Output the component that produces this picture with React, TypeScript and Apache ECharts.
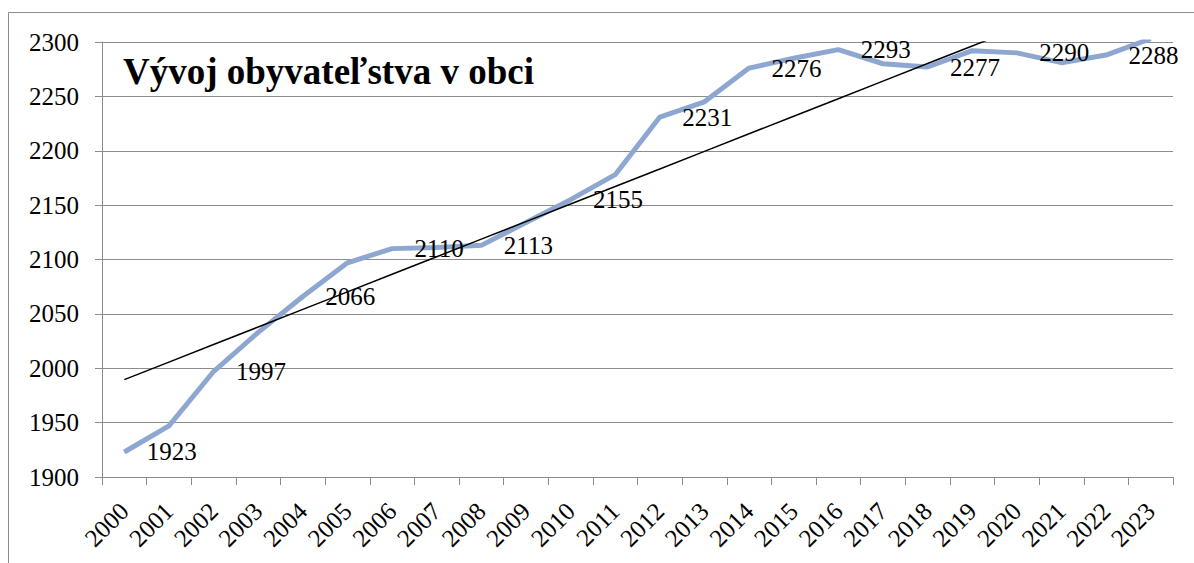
import React, { useEffect, useRef } from "react";
import * as echarts from "echarts";

const years = [
  "2000", "2001", "2002", "2003", "2004", "2005", "2006", "2007", "2008", "2009", "2010", "2011",
  "2012", "2013", "2014", "2015", "2016", "2017", "2018", "2019", "2020", "2021", "2022", "2023",
];
const population = [
  1923, 1947, 1997, 2033, 2066, 2097, 2110, 2111, 2113, 2134, 2155, 2178,
  2231, 2245, 2276, 2285, 2293, 2280, 2277, 2292, 2290, 2281, 2288, 2303,
];
const labeledYears = ["2000", "2002", "2004", "2006", "2008", "2010", "2012", "2014", "2016", "2018", "2020", "2022"];
const yMin = 1900;
const yMax = 2300;
const yStep = 50;
const titleText = "Vývoj obyvateľstva v obci";

const SERIF = "Liberation Serif";

function linearTrend(values: number[]): number[] {
  const n = values.length;
  const mx = (n - 1) / 2;
  const my = values.reduce((a, b) => a + b, 0) / n;
  let num = 0;
  let den = 0;
  values.forEach((v, i) => {
    num += (i - mx) * (v - my);
    den += (i - mx) * (i - mx);
  });
  const slope = num / den;
  const intercept = my - slope * mx;
  return values.map((_, i) => intercept + slope * i);
}

export default function App() {
  const ref = useRef<HTMLDivElement>(null);
  useEffect(() => {
    if (!ref.current) return;
    const chart = echarts.init(ref.current, undefined, { renderer: "svg" });
    const trend = linearTrend(population);
    chart.setOption({
      animation: false,
      backgroundColor: "#ffffff",
      textStyle: { fontFamily: SERIF },
      grid: { left: 102, top: 42, right: 21, bottom: 86, containLabel: false },
      graphic: [
        {
          type: "rect",
          shape: { x: 8.5, y: 12.5, width: 1400, height: 800 },
          style: { fill: "none", stroke: "#8c8c8c", lineWidth: 1 },
          silent: true,
          z: -10,
        },
        {
          type: "text",
          x: 123,
          y: 71,
          style: {
            text: titleText,
            fontFamily: SERIF,
            fontWeight: "bold",
            fontSize: 37,
            fill: "#000000",
            verticalAlign: "middle",
          },
          z: 10,
        },
      ],
      xAxis: {
        type: "category",
        data: years,
        boundaryGap: true,
        axisLine: { show: true, lineStyle: { color: "#8c8c8c", width: 1 } },
        axisTick: { show: true, length: 8, interval: 0, lineStyle: { color: "#8c8c8c" } },
        axisLabel: {
          interval: 0,
          rotate: 45,
          margin: 30,
          color: "#000000",
          fontFamily: SERIF,
          fontSize: 25,
        },
        splitLine: { show: false },
      },
      yAxis: {
        type: "value",
        min: yMin,
        max: yMax,
        interval: yStep,
        axisLine: { show: true, lineStyle: { color: "#8c8c8c", width: 1 } },
        axisTick: { show: true, length: 7, lineStyle: { color: "#8c8c8c" } },
        axisLabel: {
          margin: 23,
          color: "#000000",
          fontFamily: SERIF,
          fontSize: 25,
          formatter: (v: number) => String(v),
        },
        splitLine: { show: true, lineStyle: { color: "#8c8c8c", width: 1 } },
      },
      series: [
        {
          type: "line",
          data: population.map((v, i) => ({
            value: v,
            label: { show: labeledYears.includes(years[i]) },
          })),
          symbol: "circle",
          symbolSize: 1,
          showSymbol: true,
          clip: true,
          lineStyle: { color: "#8EA7D0", width: 5 },
          itemStyle: { color: "#8EA7D0" },
          label: {
            position: "right",
            distance: 22,
            color: "#000000",
            fontFamily: SERIF,
            fontSize: 25,
          },
          z: 2,
        },
        {
          type: "line",
          data: trend,
          symbol: "none",
          clip: true,
          lineStyle: { color: "#000000", width: 1.5 },
          z: 3,
          silent: true,
        },
      ],
    });
    return () => chart.dispose();
  }, []);
  return (
    <div
      ref={ref}
      style={{ position: "fixed", left: 0, top: 0, width: 1194, height: 563 }}
    />
  );
}
